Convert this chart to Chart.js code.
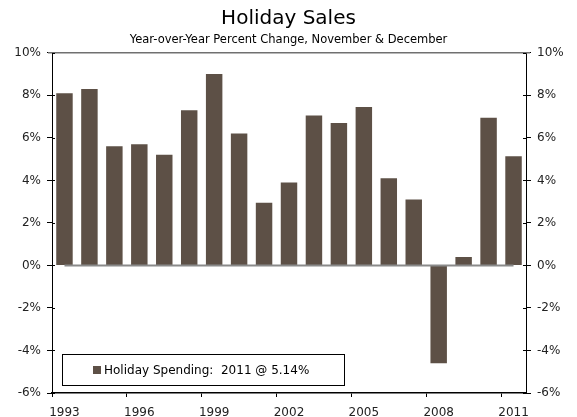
<!DOCTYPE html>
<html>
<head>
<meta charset="utf-8">
<script src="https://cdn.jsdelivr.net/npm/chart.js@4/dist/chart.umd.min.js"></script>
<style>
  html, body { margin: 0; padding: 0; background: #fff; }
  #wrap { width: 577px; height: 417px; }
</style>
</head>
<body>
<div id="wrap"><canvas id="chart1"></canvas></div>
<script>
// data
const years = ['1993','1994','1995','1996','1997','1998','1999','2000','2001','2002',
               '2003','2004','2005','2006','2007','2008','2009','2010','2011'];
const holidaySales = [8.1, 8.3, 5.6, 5.7, 5.2, 7.3, 9.0, 6.2, 2.95, 3.9,
                      7.05, 6.7, 7.45, 4.1, 3.1, -4.6, 0.4, 6.95, 5.14];
const legendText = 'Holiday Spending:  2011 @ 5.14%';
const yMin = -6, yMax = 10, yStep = 2;

const barColor = '#5d5046';
const fontFam = '"DejaVu Sans", Verdana, sans-serif';

const framePlugin = {
  id: 'frame',
  afterDatasetsDraw(chart) {
    const ctx = chart.ctx;
    const a = chart.chartArea;
    const x = chart.scales.x, y = chart.scales.y;
    ctx.save();
    // top border
    ctx.strokeStyle = '#707070';
    ctx.lineWidth = 1.5;
    ctx.beginPath();
    ctx.moveTo(a.left - 4, a.top);
    ctx.lineTo(a.right + 4, a.top);
    ctx.stroke();
    // zero line
    ctx.strokeStyle = '#8a8a8a';
    ctx.lineWidth = 2;
    ctx.beginPath();
    ctx.moveTo(x.getPixelForValue(0), y.getPixelForValue(0));
    ctx.lineTo(x.getPixelForValue(years.length - 1), y.getPixelForValue(0));
    ctx.stroke();
    // inner half of the y ticks
    ctx.strokeStyle = '#000';
    ctx.lineWidth = 1;
    for (let v = yMin; v <= yMax; v += yStep) {
      const py = Math.round(y.getPixelForValue(v)) + 0.5;
      ctx.beginPath();
      ctx.moveTo(a.left, py); ctx.lineTo(a.left + 3, py);
      ctx.moveTo(a.right, py); ctx.lineTo(a.right - 3, py);
      ctx.stroke();
    }
    // legend box inside the plot
    const bx = a.left + 10, by = a.bottom - 39, bw = 282, bh = 31;
    ctx.fillStyle = '#fff';
    ctx.fillRect(bx, by, bw, bh);
    ctx.strokeStyle = '#000';
    ctx.strokeRect(Math.round(bx) + 0.5, Math.round(by) + 0.5, bw, bh);
    ctx.fillStyle = barColor;
    ctx.fillRect(bx + 31, by + 12, 8, 8);
    ctx.fillStyle = '#000';
    ctx.font = '12px ' + fontFam;
    ctx.textBaseline = 'middle';
    ctx.fillText(legendText, bx + 42, by + 16.5);
    ctx.restore();
  }
};

const yAxis = (pos, w) => ({
  position: pos,
  min: yMin,
  max: yMax,
  afterFit: (s) => { s.width = w; },
  ticks: {
    stepSize: yStep,
    padding: 6,
    color: '#222',
    font: { family: fontFam, size: 12 },
    callback: (v) => v + '%'
  },
  grid: { drawOnChartArea: false, tickLength: 5, tickColor: '#000' },
  border: { color: '#000', width: 1 }
});

const ctx1 = document.getElementById('chart1').getContext('2d');
const chart1 = new Chart(ctx1, {
  type: 'bar',
  data: {
    labels: years,
    datasets: [{
      label: 'Holiday Spending',
      data: holidaySales,
      backgroundColor: barColor,
      borderWidth: 0,
      categoryPercentage: 1,
      barPercentage: 0.66
    }]
  },
  options: {
    responsive: true,
    maintainAspectRatio: false,
    animation: false,
    layout: { padding: { left: 0, right: 0, top: 7, bottom: 0 } },
    plugins: {
      legend: { display: false },
      tooltip: { enabled: false },
      title: {
        display: true,
        text: 'Holiday Sales',
        color: '#000',
        font: { family: fontFam, size: 20, weight: 'normal' },
        padding: { top: 0, bottom: 0 }
      },
      subtitle: {
        display: true,
        text: 'Year-over-Year Percent Change, November & December',
        color: '#000',
        font: { family: fontFam, size: 11.5, weight: 'normal' },
        padding: { top: 2, bottom: 6 }
      }
    },
    scales: {
      x: {
        afterFit: (s) => { s.height = 24; },
        ticks: {
          autoSkip: false,
          maxRotation: 0,
          padding: 9,
          color: '#222',
          font: { family: fontFam, size: 12 },
          callback: (v, i) => (i % 3 === 0 ? years[i] : '')
        },
        grid: {
          offset: true,
          drawOnChartArea: false,
          tickLength: 4,
          tickColor: (c) => (c.index % 3 === 0 ? '#000' : 'rgba(0,0,0,0)')
        },
        border: { color: '#000', width: 1.5 }
      },
      y: yAxis('left', 52),
      y2: yAxis('right', 51)
    }
  },
  plugins: [framePlugin]
});
</script>
</body>
</html>
